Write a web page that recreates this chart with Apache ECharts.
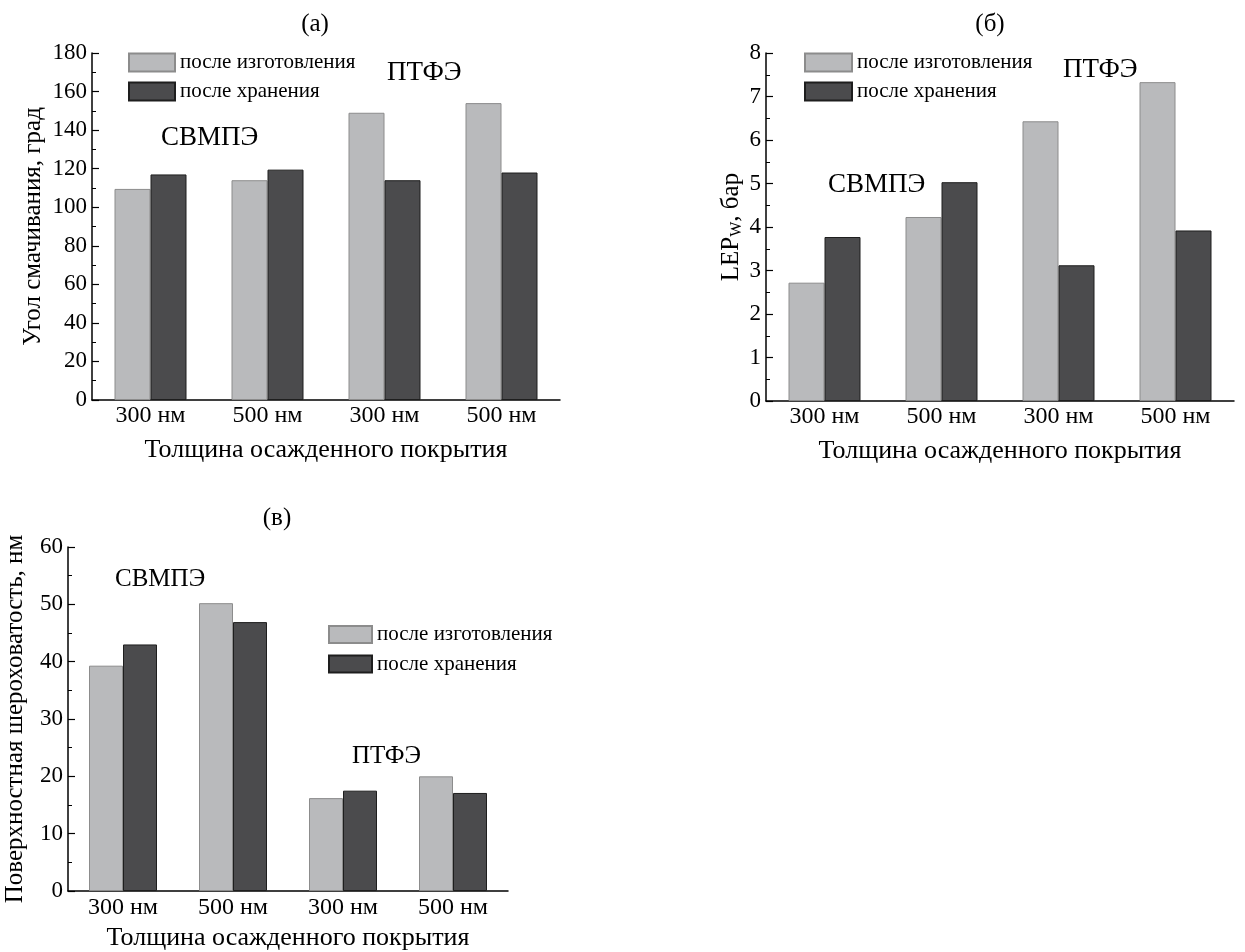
<!DOCTYPE html>
<html>
<head>
<meta charset="utf-8">
<script src="https://cdn.jsdelivr.net/npm/echarts@6/dist/echarts.min.js"></script>
<style>
html,body{margin:0;padding:0;background:#fff;}
#chart{width:1245px;height:952px;}
</style>
</head>
<body>
<div id="chart"></div>
<script>
const categories = ['300 нм', '500 нм', '300 нм', '500 нм'];
const seriesNames = ['после изготовления', 'после хранения'];
// (а) contact angle
const angleFresh = [109.5, 114, 149, 154];
const angleStored = [117, 119.5, 114, 118];
// (б) LEP_W
const lepFresh = [2.72, 4.23, 6.43, 7.33];
const lepStored = [3.77, 5.03, 3.12, 3.92];
// (в) roughness
const roughFresh = [39.3, 50.2, 16.2, 20.0];
const roughStored = [43.0, 46.9, 17.5, 17.1];

const FONT = 'Liberation Serif';
const LIGHT = '#b9babc', LIGHT_B = '#8c8c8c';
const DARK = '#4b4b4d', DARK_B = '#1e1e1e';

function xAxis(gi, labelMargin, nameGap) {
  return {
    type: 'category', gridIndex: gi, data: categories,
    axisLine: {lineStyle: {color: '#000', width: 1.5}},
    axisTick: {show: false},
    axisLabel: {color: '#000', fontFamily: FONT, fontSize: 24, margin: labelMargin},
    name: 'Толщина осажденного покрытия', nameLocation: 'middle', nameGap: nameGap,
    nameTextStyle: {color: '#000', fontFamily: FONT, fontSize: 26}
  };
}
function yAxis(gi, max, interval, name, gap, rich) {
  const ax = {
    type: 'value', gridIndex: gi, min: 0, max: max, interval: interval,
    axisLine: {show: true, lineStyle: {color: '#000', width: 1.5}},
    axisTick: {show: true, inside: true, length: 7, lineStyle: {color: '#000', width: 1.2}},
    minorTick: {show: true, splitNumber: 2, length: 4, lineStyle: {color: '#000', width: 1}},
    splitLine: {show: false},
    axisLabel: {color: '#000', fontFamily: FONT, fontSize: 23, margin: 5},
    name: name, nameLocation: 'middle', nameGap: gap, nameRotate: 90,
    nameTextStyle: {color: '#000', fontFamily: FONT, fontSize: 25}
  };
  if (rich) ax.nameTextStyle.rich = rich;
  return ax;
}
function bars(gi, fresh, stored, w) {
  return [
    {name: seriesNames[0], type: 'bar', xAxisIndex: gi, yAxisIndex: gi, data: fresh,
     barWidth: w, barGap: '0%', itemStyle: {color: LIGHT, borderColor: LIGHT_B, borderWidth: 1}},
    {name: seriesNames[1], type: 'bar', xAxisIndex: gi, yAxisIndex: gi, data: stored,
     barWidth: w, barGap: '0%', itemStyle: {color: DARK, borderColor: DARK_B, borderWidth: 1}}
  ];
}
function legend(left, top, w, h, gap) {
  return {
    left: left, top: top, orient: 'vertical', itemWidth: w, itemHeight: h, itemGap: gap,
    padding: 0, icon: 'rect', data: seriesNames, selectedMode: false,
    textStyle: {color: '#000', fontFamily: FONT, fontSize: 21, lineHeight: h}
  };
}
function label(x, y, text, size) {
  return {type: 'text', left: x, top: y - size / 2 - 2,
    style: {text: text, fill: '#000', font: size + 'px "' + FONT + '"'}};
}
function title(cx, cy, text) {
  return {type: 'text', x: cx, y: cy,
    style: {text: text, fill: '#000', font: '25px "' + FONT + '"', align: 'center', verticalAlign: 'middle'}};
}

const chart = echarts.init(document.getElementById('chart'), null, {renderer: 'canvas'});
chart.setOption({
  animation: false,
  backgroundColor: '#fff',
  grid: [
    {left: 92, top: 53, width: 468, height: 347},
    {left: 766, top: 53, width: 468, height: 348},
    {left: 68, top: 547, width: 440, height: 349}
  ],
  xAxis: [xAxis(0, 4, 37), xAxis(1, 4, 37), xAxis(2, 5, 34)],
  yAxis: [
    yAxis(0, 180, 20, 'Угол смачивания, град', 46),
    yAxis(1, 8, 1, '{a|LEP}{s|W}{a|, бар}', 21, {
      a: {fontFamily: FONT, fontSize: 25, color: '#000'},
      s: {fontFamily: FONT, fontSize: 16, color: '#000', padding: [12, 0, 0, 0]}
    }),
    yAxis(2, 60, 10, 'Поверхностная шероховатость, нм', 40)
  ],
  legend: [
    legend(128, 52, 46, 18, 8),
    legend(804, 52, 47, 18, 8),
    legend(328, 624, 43, 17, 8.5)
  ],
  series: [].concat(
    bars(0, angleFresh, angleStored, 36),
    bars(1, lepFresh, lepStored, 36),
    bars(2, roughFresh, roughStored, 34)
  ),
  graphic: [
    title(315, 24, '(а)'),
    title(990, 24, '(б)'),
    title(277, 518, '(в)'),
    label(161, 140, 'СВМПЭ', 27),
    label(387, 75, 'ПТФЭ', 27),
    label(828, 187, 'СВМПЭ', 27),
    label(1063, 72, 'ПТФЭ', 27),
    label(115, 581, 'СВМПЭ', 25),
    label(352, 758, 'ПТФЭ', 25)
  ]
});
</script>
</body>
</html>
